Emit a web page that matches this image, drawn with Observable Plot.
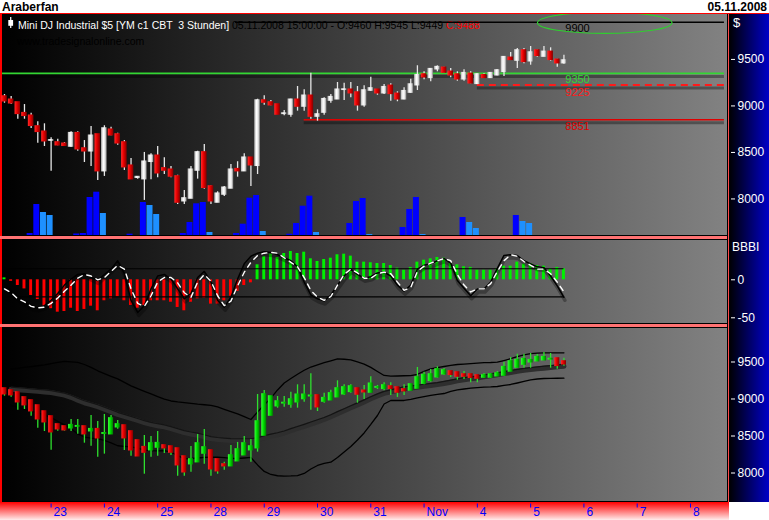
<!DOCTYPE html>
<html><head><meta charset="utf-8">
<script src="https://cdn.jsdelivr.net/npm/d3@7"></script>
<script src="https://cdn.jsdelivr.net/npm/@observablehq/plot@0.6"></script>
<style>
body{margin:0;background:#fff;}
#c{position:relative;width:769px;height:520px;overflow:hidden;font-family:"Liberation Sans",Arial,sans-serif;}
#c > *{position:absolute;}
.t{white-space:pre;line-height:1;}
</style></head><body><div id="c"></div>
<script>
// ---------- DATA (3-hour bars, Mini DJ Industrial $5) ----------
const opens  = [9101,9066,9037,8922,8894,8779,8722,8628,8607,8593, 8564,8707,8542,8513,8693,8299,8744,8693,8607,8357, 8228,8213,8400,8464,8328,8314,8242,7976,8005,8306, 8500,8134,7962,8048,8113,8320,8299,8443,8357,9058, 9037,9015,8915,8908,9066,8994,9109,8886,8929,9058, 9072,9174,9174,9144,9008,9166,9174,9137,9216,9130, 9072,9144,9223,9338,9302,9395,9410,9367,9338,9287, 9345,9238,9330,9302,9330,9367,9517,9488,9596,9481, 9596,9531,9581,9496,9460];
const highs  = [9123,9101,9037,9015,8922,8829,8808,8657,8642,8607, 8722,8722,8628,8779,8693,8787,8772,8707,8628,8435, 8242,8500,8485,8564,8443,8349,8256,8091,8349,8513, 8585,8142,8077,8134,8371,8400,8485,8443,9072,9109, 9058,9015,8951,9072,9209,9174,9352,8958,9087,9123, 9252,9244,9252,9209,9216,9309,9174,9230,9238,9152, 9195,9287,9432,9367,9402,9431,9417,9402,9367,9388, 9367,9345,9345,9359,9388,9524,9574,9617,9617,9639, 9603,9639,9625,9502,9545];
const lows   = [9029,9015,8857,8857,8758,8599,8564,8299,8572,8572, 8557,8513,8392,8349,8199,8242,8679,8578,8306,8213, 8213,7984,8206,8228,8263,8228,7941,7941,8005,8213, 8105,7941,7962,8027,8113,8234,8299,8134,8263,9008, 9001,8908,8894,8879,8944,8944,8857,8836,8900,9029, 9072,9058,9087,8944,8986,9158,9115,9123,9051,9045, 9066,9137,9166,9281,9259,9367,9352,9302,9266,9266, 9238,9230,9295,9295,9324,9316,9496,9402,9453,9438, 9524,9531,9481,9416,9449];
const closes = [9051,9029,8915,8894,8787,8722,8621,8630,8578,8572, 8707,8535,8513,8679,8299,8757,8685,8599,8342,8213, 8235,8400,8464,8277,8306,8242,7962,8005,8314,8500, 8120,7976,8056,8120,8314,8299,8443,8363,9058,9037, 9008,8908,8918,9066,8994,9109,8886,8908,9072,9094, 9174,9176,9137,9008,9166,9188,9137,9201,9130,9072, 9158,9230,9330,9309,9395,9417,9359,9330,9287,9352, 9244,9338,9302,9352,9381,9524,9496,9596,9474,9574, 9539,9581,9496,9460,9488];

const volumes = [0,0,0,0,2000,31000,23000,20000,0,0, 0,1500,2000,38000,43300,22000,0,0,0,1300, 0,33000,30000,21000,0,0,0,2000,13000,31700, 33000,3000,0,0,0,2000,11300,37300,40000,4000, 0,0,0,1300,12000,29300,39300,3000,0,0, 0,0,12000,34000,37000,1000,0,0,0,0, 8000,26000,38000,1000,0,0,0,0,0,18000, 13000,7000,0,0,0,0,0,20000,14000,12000, 0,0,0,0,0];
const volumeLightBars = [6,7,15,22,23,31,39,47,55,63,70,71,78,79];

// BBBI indicator panel
const bbbiHist = [2.5,-2,-7.5,-12,-20.7,-26,-34.7,-38,-42.6,-41.7, -37.4,-41.7,-39,-34.7,-40.8,-27.6,-25,-22.4,-27.6,-33.8, -37.4,-33.8,-27.6,-27.6,-27.6,-29.5,-36.4,-40.8,-29.5,-25, -24.2,-32,-32,-27.6,-21.6,-15.4,-7.5,-4,19.7,30.3, 33.7,29.3,34.6,37.2,34.6,36.3,27.6,24.1,26.7,28.4, 32.9,33.7,31.1,23.2,23.2,22.4,21.4,21.4,18.8,15.3, 12.6,16.2,23.2,25.8,27.6,29.3,28.4,21.4,19.7,17.1, 16.2,12.6,12.6,12.6,14.5,17.9,17.9,23.2,20.5,21.4, 18.8,17.9,14.5,16.2,14.5];
const bbbiLine = [-8,-14,-23,-29,-35,-37,-34,-27,-18,-7, 1,7,8,3,-1,7,14,25,8,-27, -43,-34,-12,5,7,1,-12,-25,-18,3, 11,-3,-27,-36,-23,1,21,31,35,37, 36,33,29,25,17,-3,-20,-25,-28,-20, -7,5,14,7,2,4,9,10,5,-7, -15,-7,14,19,21,25,28,22,-1,-11, -21,-12,-12,-3,15,32,33,32,25,21, 17,16,5,-8,-23];
const bbbiSignal = [-12,-17,-25,-29,-35,-37,-36,-31,-24,-15, -7,2,7,5,0,3,11,19,14,-12, -31,-35,-21,-3,3,3,-4,-17,-23,-3, 7,-2,-21,-34,-28,-8,10,23,32,35, 36,35,29,23,17,3,-14,-23,-27,-22, -7,7,14,9,2,2,8,10,8,-3, -14,-10,11,18,22,25,28,25,7,-7, -16,-12,-12,-5,11,25,33,31,24,19, 14,14,8,-3,-16];
const bbbiLevels = [14.5, -22.4];

// Heikin-Ashi panel with Bollinger bands
const haOpen  = [9142,9115,9088,9021,8980,8912,8831,8764,8656,8629, 8606,8628,8629,8565,8592,8532,8525,8619,8642,8561, 8440,8349,8308,8345,8372,8358,8331,8223,8120,8147, 8264,8304,8183,8115,8093,8160,8241,8309,8336,8507, 8777,8903,8942,8926,8957,9000,9038,9048,8966,8984, 9025,9065,9097,9142,9111,9088,9155,9138,9169,9156, 9129,9115,9142,9209,9246,9295,9335,9372,9358,9331, 9331,9318,9291,9291,9308,9318,9372,9426,9466,9497, 9511,9524,9536,9547,9507];
const haHigh  = [9142,9115,9088,9021,8980,8912,8831,8764,8656,8629, 8723,8723,8629,8777,8696,8791,8777,8710,8642,8561, 8440,8507,8494,8561,8372,8358,8331,8223,8358,8521, 8588,8304,8183,8146,8372,8413,8494,8453,9061,9115, 9034,9034,9034,9092,9192,9192,9341,9048,9078,9119, 9246,9192,9192,9142,9183,9300,9183,9219,9219,9156, 9192,9196,9426,9362,9399,9435,9412,9372,9358,9372, 9331,9318,9345,9345,9372,9497,9561,9605,9605,9615, 9601,9628,9615,9547,9551];
const haLow   = [9038,9024,8849,8858,8768,8606,8561,8309,8565,8565, 8561,8525,8403,8362,8214,8255,8525,8592,8304,8227, 8227,7984,8214,8227,8264,8237,7957,7957,8011,8147, 8119,7957,7984,8038,8093,8160,8241,8146,8282,8507, 8777,8876,8889,8876,8876,8957,8849,8831,8943,8984, 9025,9048,9078,8943,8993,9088,9129,9111,9048,9021, 9048,9115,9142,9192,9227,9281,9318,9291,9254,9264, 9219,9219,9277,9277,9308,9308,9372,9416,9416,9416, 9511,9524,9416,9403,9443];
const haClose = [9065,9052,8957,8917,8836,8727,8687,8552,8592,8579, 8646,8632,8525,8592,8470,8536,8737,8656,8471,8308, 8227,8277,8399,8403,8336,8277,8106,8011,8183,8399, 8345,8052,8025,8093,8237,8318,8399,8358,8696,9061, 9034,8966,8946,8993,9057,9057,9043,8890,9011,9075, 9142,9156,9169,9061,9092,9206,9159,9183,9138,9088, 9106,9196,9291,9322,9331,9399,9385,9327,9304,9304, 9287,9277,9318,9331,9345,9430,9507,9524,9538,9524, 9565,9565,9540,9449,9470];
const bandUpper  = [null,9405,9415,9427,9437,9449,9462,9478,9495,9507, 9501,9496,9466,9428,9381,9342,9307,9272,9224,9177, 9139,9104,9068,9033,8997,8973,8961,8952,8941,8930, 8922,8915,8892,8861,8830,8800,8761,8723,8825,8923, 9011,9122,9216,9277,9335,9388,9432,9462,9491,9516, 9543,9537,9528,9500,9472,9427,9372,9318,9308,9311, 9314,9316,9334,9374,9408,9424,9439,9455,9466,9472, 9478,9486,9492,9493,9497,9520,9545,9573,9596,9612, 9620,9623,9624,9624,9624];
const bandMiddle = [null,9160,9153,9145,9138,9130,9122,9114,9096,9079, 9050,9012,8976,8950,8923,8891,8857,8820,8792,8765, 8737,8707,8685,8666,8650,8627,8599,8572,8554,8538, 8517,8492,8480,8472,8465,8463,8463,8463,8479,8503, 8526,8544,8568,8599,8629,8658,8689,8719,8750,8788, 8829,8868,8908,8948,8988,9030,9069,9103,9123,9145, 9165,9176,9187,9199,9210,9222,9237,9254,9273,9288, 9300,9312,9326,9341,9355,9370,9385,9401,9414,9424, 9434,9443,9451,9461,9470];
const bandLower  = [null,8915,8891,8863,8839,8811,8782,8750,8697,8651, 8599,8528,8486,8472,8465,8440,8407,8368,8360,8353, 8335,8310,8302,8299,8303,8281,8237,8192,8196,8203, 8210,8213,8214,8207,8199,8196,8203,8210,8109,8021, 7980,7963,7959,7960,7964,7994,8054,8102,8129,8146, 8210,8284,8358,8446,8541,8656,8777,8933,8980,8980, 8980,8994,9014,9031,9048,9061,9074,9104,9122,9135, 9147,9155,9161,9164,9169,9183,9196,9216,9237,9257, 9270,9277,9278,9280,9281];

// Drawn price levels (value, first bar) and annotation
const levelPrices = [9900, 9350, 9225, 8851];
const levelStartBar = [34.7, -0.3, 71, 45];
const levelEndBar = 108.1;
const levelLabelBar = 84.2;
const ellipseBar = 90.2, ellipsePrice = 9889, ellipseHalfBars = 10.1, ellipseHalfPrice = 114;

// Axes
const tickBars = [7,15,23,31,39,47,55,63,71,79,87,95,103];
const tickLabels = ["23","24","25","28","29","30","31","Nov","4","5","6","7","8"];
const priceTicks = [8000, 8500, 9000, 9500];
const bbbiTicks = [0, -50];

// ---------- LAYOUT ----------
const C = document.getElementById("c");
function box(l, t, w, h, bg) {
  const d = document.createElement("div");
  Object.assign(d.style, {left: l + "px", top: t + "px", width: w + "px", height: h + "px", background: bg});
  C.appendChild(d); return d;
}
function txt(s, l, t, css) {
  const d = document.createElement("div"); d.className = "t"; d.textContent = s;
  Object.assign(d.style, {left: l + "px", top: t + "px"}, css);
  C.appendChild(d); return d;
}
// gradients for candle bodies
const defs = document.createElementNS("http://www.w3.org/2000/svg", "svg");
defs.setAttribute("width", 0); defs.setAttribute("height", 0);
defs.innerHTML = `<defs>
<linearGradient id="gWhite" x1="0" x2="1" y1="0" y2="0"><stop offset="0" stop-color="#b4b4b4"/><stop offset="0.4" stop-color="#ffffff"/><stop offset="0.7" stop-color="#e4e4e4"/><stop offset="1" stop-color="#7c7c7c"/></linearGradient>
<linearGradient id="gRed" x1="0" x2="1" y1="0" y2="0"><stop offset="0" stop-color="#ff2a2a"/><stop offset="0.45" stop-color="#e80000"/><stop offset="1" stop-color="#820000"/></linearGradient>
<linearGradient id="gGreen" x1="0" x2="1" y1="0" y2="0"><stop offset="0" stop-color="#3cff3c"/><stop offset="0.45" stop-color="#00e000"/><stop offset="1" stop-color="#007a00"/></linearGradient>
</defs>`;
C.appendChild(defs);

// frame and backgrounds
box(0, 13, 769, 1, "#ff0000");
box(0, 13, 1.5, 489, "#ff0000");
box(1.5, 14, 726, 487, "linear-gradient(to right,#000000,#828282)");
box(727, 14, 1, 488, "#000");
box(728, 14, 1, 488, "#ff4a4a");
box(729, 14, 40, 488, "linear-gradient(to right,#000000,#0000c8)");
box(1.5, 235, 726, 1, "#000"); box(0, 236, 727, 2.5, "#ff7272"); box(1.5, 238.5, 726, 1, "#000");
box(1.5, 323, 726, 1, "#000"); box(0, 324, 727, 2.5, "#ff7272"); box(1.5, 326.5, 726, 1, "#000");
box(1.5, 500.5, 726, 1, "#000");
box(0, 502, 729, 18, "linear-gradient(to bottom,#ff0000,#ffecec)");

// titles
txt("Araberfan", 2, 0, {font: "bold 12px 'Liberation Sans',Arial,sans-serif", color: "#000"});
const dt = txt("05.11.2008", 0, 0, {font: "bold 12px 'Liberation Sans',Arial,sans-serif", color: "#000"});
dt.style.left = ""; dt.style.right = "2px";

const xDom = [-0.3, 108.56];
const font = "'Liberation Sans',Arial,sans-serif";
function panel(top, h, yDom, marks, visible) {
  const p = Plot.plot({
    width: 769, height: h, marginTop: 0, marginBottom: 0, marginLeft: 2, marginRight: 42,
    x: {domain: xDom, axis: null}, y: {domain: yDom, axis: null},
    style: {background: "transparent", fontFamily: font, fontSize: "12px", overflow: visible ? "visible" : "hidden"},
    marks
  });
  p.style.left = "0px"; p.style.top = top + "px";
  C.appendChild(p); return p;
}
const bars = d3.range(opens.length);
const candles = bars.map(i => ({i, o: opens[i], h: highs[i], l: lows[i], c: closes[i]}));
const ha = bars.map(i => ({i, o: haOpen[i], h: haHigh[i], l: haLow[i], c: haClose[i]}));
const vol = bars.map(i => ({i, v: volumes[i], light: volumeLightBars.includes(i)})).filter(d => d.v > 0);
const ind = bars.map(i => ({i, hist: bbbiHist[i], line: bbbiLine[i], sig: bbbiSignal[i]}));
const bands = bars.map(i => ({i, up: bandUpper[i], mid: bandMiddle[i], lo: bandLower[i]})).filter(d => d.up != null);
const levels = levelPrices.map((p, k) => ({p, from: levelStartBar[k], to: levelEndBar}));

// legend text (behind the price panel lines)
const icon = document.createElementNS("http://www.w3.org/2000/svg", "svg");
icon.setAttribute("width", 8); icon.setAttribute("height", 13);
icon.style.left = "7px"; icon.style.top = "16px";
icon.innerHTML = '<line x1="3.7" x2="3.7" y1="1" y2="12" stroke="#eee" stroke-width="1.3"/><rect x="1.3" y="4" width="4.8" height="5.8" fill="#fff"/>';
C.appendChild(icon);
const lg = document.createElement("div"); lg.className = "t";
Object.assign(lg.style, {left: "18px", top: "18.5px", font: "10.5px " + font});
lg.innerHTML = '<span style="color:#fff">Mini DJ Industrial $5 [YM c1 CBT  3 Stunden]</span> <span style="color:#000">05.11.2008 15:00:00 - O:9460 H:9545 L:9449</span> <span style="color:#ff0000">C:9488</span>';
C.appendChild(lg);
txt("www.tradesignalonline.com", 17, 34.5, {font: "10.5px " + font, color: "#000"});

// ---------- PANEL 1: volume + candles ----------
panel(14, 221, [0, 221000], [
  Plot.rectY(vol.filter(d => !d.light), {x1: d => d.i - 0.6, x2: d => d.i + 0.3, y: "v", fill: "#0000ff"}),
  Plot.rectY(vol.filter(d => d.light), {x1: d => d.i - 0.6, x2: d => d.i + 0.3, y: "v", fill: "#1e90ff"})
]);
const yP1 = [7607, 9983];
function levelMarks(k, stroke, width, dash, shadow, labelFill, labelDy) {
  const d = [levels[k]];
  const m = [];
  if (shadow) m.push(Plot.ruleY(d, {y: "p", x1: "from", x2: "to", stroke: "#000", strokeOpacity: 0.35, strokeWidth: 3, dy: 3}));
  m.push(Plot.ruleY(d, {y: "p", x1: "from", x2: "to", stroke, strokeWidth: width, strokeDasharray: dash}));
  m.push(Plot.text(d, {x: () => levelLabelBar, y: "p", text: v => String(v.p), fill: labelFill, textAnchor: "start", lineAnchor: "top", dy: labelDy, fontSize: 11}));
  return m;
}
const p1 = panel(14, 221, yP1, [
  ...levelMarks(0, "#000", 1.5, null, false, "#000", 2),
  ...levelMarks(1, "#33d633", 1.6, null, true, "#33d633", 1.5),
  ...levelMarks(2, "#ff1a1a", 2, "7,5", true, "#ff1a1a", 2.8),
  ...levelMarks(3, "#e00000", 1.5, null, true, "#e00000", 2),
  Plot.ruleX(candles, {x: "i", y1: "l", y2: "h", stroke: "#e6e6e6", strokeWidth: 1.3}),
  Plot.rect(candles.filter(d => d.c >= d.o), {x1: d => d.i - 0.42, x2: d => d.i + 0.42, y1: "o", y2: "c", fill: "url(#gWhite)", insetTop: -0.8, insetBottom: -0.8}),
  Plot.rect(candles.filter(d => d.c < d.o), {x1: d => d.i - 0.42, x2: d => d.i + 0.42, y1: "o", y2: "c", fill: "url(#gRed)", insetTop: -0.8, insetBottom: -0.8}),
  Plot.axisY(priceTicks, {anchor: "right", tickSize: 4, tickPadding: 3, dx: 3, color: "#fff", fontSize: 12, tickFormat: d => String(d)})
]);
// green ellipse annotation through the panel scales
(function () {
  const sx = p1.scale("x"), sy = p1.scale("y");
  const fx = sx.apply ? v => sx.apply(v) : d3.scaleLinear(sx.domain, sx.range);
  const fy = sy.apply ? v => sy.apply(v) : d3.scaleLinear(sy.domain, sy.range);
  const cx = fx(ellipseBar), cy = fy(ellipsePrice);
  d3.select(p1).append("ellipse")
    .attr("cx", cx).attr("cy", cy)
    .attr("rx", Math.abs(fx(ellipseBar + ellipseHalfBars) - cx))
    .attr("ry", Math.abs(fy(ellipsePrice + ellipseHalfPrice) - cy))
    .attr("fill", "none").attr("stroke", "#2fcf2f").attr("stroke-width", 1.2);
})();
txt("$", 733, 15, {font: "13px " + font, color: "#fff"});

// ---------- PANEL 2: BBBI ----------
panel(239, 84, [-57.5, 53], [
  Plot.rectY(ind.filter(d => d.hist < 0), {x1: d => d.i - 0.22, x2: d => d.i + 0.22, y: "hist", fill: "#ff0000"}),
  Plot.rectY(ind.filter(d => d.hist >= 0), {x1: d => d.i - 0.22, x2: d => d.i + 0.22, y: "hist", fill: "#00f000"}),
  Plot.ruleY(bbbiLevels, {x1: 0, x2: 84, stroke: "#000", strokeWidth: 1.2}),
  Plot.line(ind, {x: "i", y: "line", stroke: "#000", strokeOpacity: 0.3, strokeWidth: 3.5, dy: 3, dx: 1}),
  Plot.line(ind, {x: "i", y: "line", stroke: "#000", strokeWidth: 1.5}),
  Plot.line(ind, {x: "i", y: "sig", stroke: "#fff", strokeWidth: 1.4, strokeDasharray: "5,5"}),
  Plot.axisY(bbbiTicks, {anchor: "right", tickSize: 4, tickPadding: 3, dx: 3, color: "#fff", fontSize: 12, tickFormat: d => String(d)})
], true);
txt("BBBI", 732, 240, {font: "12px " + font, color: "#fff"});

// ---------- PANEL 3: Heikin-Ashi + Bollinger ----------
panel(327, 174, [7615, 9966], [
  Plot.line(bands, {x: "i", y: "mid", stroke: "#2e2e2e", strokeWidth: 5, dy: 2}),
  Plot.line(bands, {x: "i", y: "mid", stroke: "#141414", strokeWidth: 1.2}),
  Plot.line(bands, {x: "i", y: "up", stroke: "#000", strokeWidth: 1.3}),
  Plot.line(bands, {x: "i", y: "lo", stroke: "#000", strokeWidth: 1.3}),
  Plot.ruleX(ha, {x: "i", y1: "l", y2: "h", stroke: "#2ee02e", strokeWidth: 1.3}),
  Plot.rect(ha.filter(d => d.c >= d.o), {x1: d => d.i - 0.38, x2: d => d.i + 0.38, y1: "o", y2: "c", fill: "url(#gGreen)", insetTop: -0.8, insetBottom: -0.8}),
  Plot.rect(ha.filter(d => d.c < d.o), {x1: d => d.i - 0.38, x2: d => d.i + 0.38, y1: "o", y2: "c", fill: "url(#gRed)", insetTop: -0.8, insetBottom: -0.8}),
  Plot.axisY(priceTicks, {anchor: "right", tickSize: 4, tickPadding: 3, dx: 3, color: "#fff", fontSize: 12, tickFormat: d => String(d)})
]);

// ---------- X AXIS ----------
const xa = Plot.plot({
  width: 769, height: 18, marginTop: 0, marginBottom: 0, marginLeft: 2, marginRight: 42,
  x: {domain: xDom, axis: null},
  style: {background: "transparent", fontFamily: font, fontSize: "12px"},
  marks: [
    Plot.tickX(tickBars, {x: d => d, stroke: "#0000ff", strokeWidth: 1, insetTop: 1.5, insetBottom: 12.5}),
    Plot.text(tickBars, {x: d => d, frameAnchor: "top", text: (d, i) => tickLabels[i], fill: "#0000ff", textAnchor: "start", lineAnchor: "top", dx: 2.5, dy: 4.5, fontSize: 12})
  ]
});
xa.style.left = "0px"; xa.style.top = "502px";
C.appendChild(xa);
</script></body></html>
